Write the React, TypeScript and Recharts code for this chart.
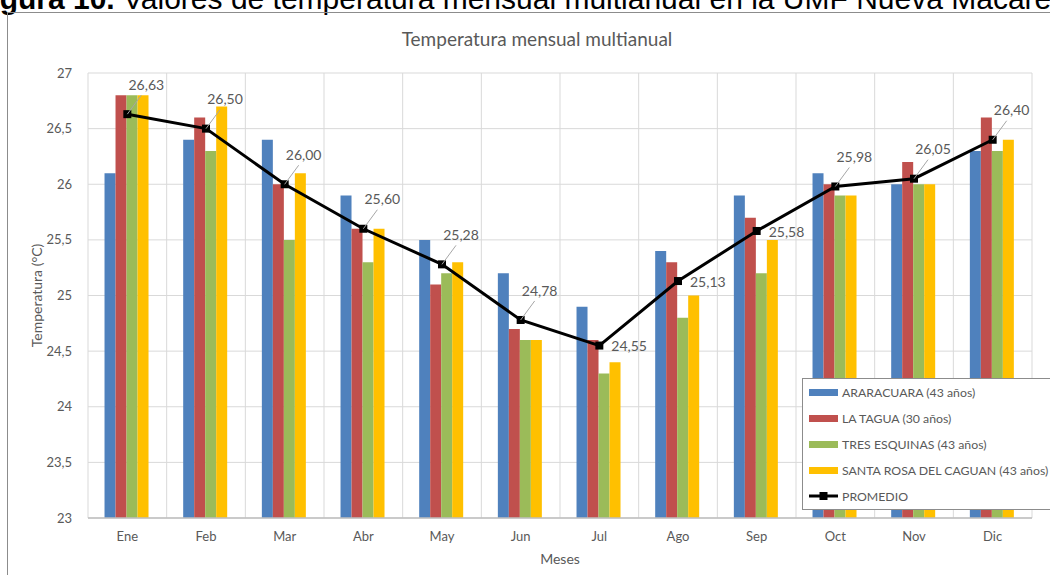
import React from 'react';
import {
  ComposedChart,
  Bar,
  Line,
  XAxis,
  YAxis,
  CartesianGrid,
  Legend,
  LabelList,
} from 'recharts';

const months = ['Ene', 'Feb', 'Mar', 'Abr', 'May', 'Jun', 'Jul', 'Ago', 'Sep', 'Oct', 'Nov', 'Dic'];
const araracuara = [26.1, 26.4, 26.4, 25.9, 25.5, 25.2, 24.9, 25.4, 25.9, 26.1, 26.0, 26.3];
const laTagua = [26.8, 26.6, 26.0, 25.6, 25.1, 24.7, 24.6, 25.3, 25.7, 26.0, 26.2, 26.6];
const tresEsquinas = [26.8, 26.3, 25.5, 25.3, 25.2, 24.6, 24.3, 24.8, 25.2, 25.9, 26.0, 26.3];
const santaRosa = [26.8, 26.7, 26.1, 25.6, 25.3, 24.6, 24.4, 25.0, 25.5, 25.9, 26.0, 26.4];
const promedio = [26.63, 26.5, 26.0, 25.6, 25.28, 24.78, 24.55, 25.13, 25.58, 25.98, 26.05, 26.4];
const yTicks = [23, 23.5, 24, 24.5, 25, 25.5, 26, 26.5, 27];

const series = [
  { key: 'araracuara', name: 'ARARACUARA (43 años)', color: '#4f81bd' },
  { key: 'laTagua', name: 'LA TAGUA (30 años)', color: '#c0504d' },
  { key: 'tresEsquinas', name: 'TRES ESQUINAS (43 años)', color: '#9bbb59' },
  { key: 'santaRosa', name: 'SANTA ROSA DEL CAGUAN (43 años)', color: '#ffc000' },
];

const data = months.map((mes, i) => ({
  mes,
  araracuara: araracuara[i],
  laTagua: laTagua[i],
  tresEsquinas: tresEsquinas[i],
  santaRosa: santaRosa[i],
  promedio: promedio[i],
}));

const FONT = 'Lato, "Open Sans", sans-serif';
const TEXT = '#595959';

// labels near the bottom of the curve sit to the right, the rest get a leader line
const rightLabels = new Set([6, 7, 8]);

const fmt = (v: number, digits?: number) =>
  (digits !== undefined ? v.toFixed(digits) : String(v)).replace('.', ',');

const SquareDot = (props: any) => {
  const { cx, cy } = props;
  if (cx == null || cy == null) return null;
  return <rect x={cx - 4} y={cy - 4} width={8} height={8} fill="#000" />;
};

const PromedioLabel = (props: any) => {
  const { x, y, value, index } = props;
  const txt = fmt(Number(value), 2);
  if (rightLabels.has(index)) {
    return (
      <text x={x + 12} y={y + 2} dominantBaseline="middle" fill={TEXT} fontSize={14} fontFamily={FONT}>
        {txt}
      </text>
    );
  }
  return (
    <g>
      <line x1={x} y1={y} x2={x + 14} y2={y - 19} stroke="#a6a6a6" strokeWidth={1} />
      <text
        x={x + 19}
        y={y - 28}
        textAnchor="middle"
        dominantBaseline="middle"
        fill={TEXT}
        fontSize={14}
        fontFamily={FONT}
      >
        {txt}
      </text>
    </g>
  );
};

const LegendBox = () => (
  <div
    style={{
      background: '#fff',
      border: '1.5px solid #8c8c8c',
      padding: '0 0 0 6px',
      fontFamily: FONT,
      fontSize: 12.3,
      color: TEXT,
      width: 270,
      boxSizing: 'border-box',
    }}
  >
    {series.map((s) => (
      <div key={s.key} style={{ display: 'flex', alignItems: 'center', height: 26, whiteSpace: 'nowrap' }}>
        <span style={{ display: 'inline-block', width: 29, height: 7, background: s.color, marginRight: 4 }} />
        {s.name}
      </div>
    ))}
    <div style={{ display: 'flex', alignItems: 'center', height: 26 }}>
      <svg width={29} height={10} style={{ marginRight: 4 }}>
        <line x1={0} y1={5} x2={29} y2={5} stroke="#000" strokeWidth={3} />
        <rect x={10.5} y={1} width={8} height={8} fill="#000" />
      </svg>
      PROMEDIO
    </div>
  </div>
);

export default function App() {
  // vertical grid lines fall on the category boundaries
  const boundaries = ({ offset }: any) =>
    months.concat('').map((_, i) => offset.left + (i * offset.width) / months.length);

  return (
    <div
      style={{
        position: 'absolute',
        left: 0,
        top: 0,
        width: 1050,
        height: 575,
        overflow: 'hidden',
        background: '#fff',
      }}
    >
      <div
        style={{
          position: 'absolute',
          left: -27,
          top: -16,
          whiteSpace: 'nowrap',
          fontFamily: '"Liberation Sans", Arial, sans-serif',
          fontSize: 30,
          lineHeight: '30px',
          color: '#000',
        }}
      >
        <b>Figura 10.</b> Valores de temperatura mensual multianual en la UMF Nueva Macarena
      </div>
      <div
        style={{
          position: 'absolute',
          left: 7,
          top: 12,
          width: 1100,
          height: 600,
          border: '1.5px solid #8c8c8c',
        }}
      />
      <div
        style={{
          position: 'absolute',
          left: 0,
          top: 27,
          width: 1074,
          textAlign: 'center',
          fontFamily: FONT,
          fontSize: 19,
          color: TEXT,
        }}
      >
        Temperatura mensual multianual
      </div>
      <ComposedChart
        width={1050}
        height={575}
        data={data}
        margin={{ top: 73, right: 18, bottom: 27, left: 28 }}
        barCategoryGap="21%"
        barGap={0}
        style={{ position: 'absolute', left: 0, top: 0 }}
      >
        <CartesianGrid stroke="#d9d9d9" strokeWidth={1} verticalCoordinatesGenerator={boundaries} />
        <XAxis
          dataKey="mes"
          height={30}
          axisLine={{ stroke: '#bfbfbf', strokeWidth: 1.5 }}
          tickLine={false}
          tick={{ fill: TEXT, fontSize: 13, fontFamily: FONT }}
          tickMargin={8}
          label={{ value: 'Meses', position: 'insideBottom', offset: -16, fill: TEXT, fontSize: 14, fontFamily: FONT }}
        />
        <YAxis
          width={60}
          domain={[23, 27]}
          ticks={yTicks}
          interval={0}
          axisLine={false}
          tickLine={false}
          tickFormatter={(v: number) => fmt(v)}
          tick={{ fill: TEXT, fontSize: 13, fontFamily: FONT }}
          tickMargin={10}
          label={{
            value: 'Temperatura (°C)',
            angle: -90,
            position: 'insideLeft',
            offset: 9,
            style: { textAnchor: 'middle' },
            fill: TEXT,
            fontSize: 14,
            fontFamily: FONT,
          }}
        />
        <Legend
          layout="vertical"
          align="center"
          verticalAlign="middle"
          content={LegendBox}
          wrapperStyle={{ left: 802, top: 378, width: 270 }}
        />
        {series.map((s) => (
          <Bar key={s.key} dataKey={s.key} name={s.name} fill={s.color} isAnimationActive={false} />
        ))}
        <Line
          type="linear"
          dataKey="promedio"
          name="PROMEDIO"
          stroke="#000"
          strokeWidth={3}
          dot={<SquareDot />}
          activeDot={false}
          isAnimationActive={false}
        >
          <LabelList dataKey="promedio" content={<PromedioLabel />} />
        </Line>
      </ComposedChart>
    </div>
  );
}
